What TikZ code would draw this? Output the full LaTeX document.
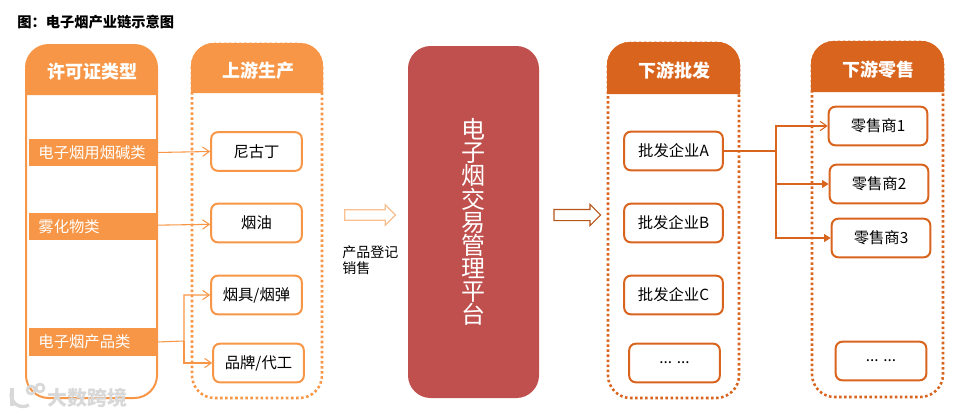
\documentclass[tikz,border=0pt]{standalone}
\usepackage{fontspec}
\setmainfont{Noto Sans CJK SC}
\usepackage{xcolor}
\usetikzlibrary{shapes.arrows,arrows.meta}
\definecolor{softorange}{RGB}{247,150,70}
\definecolor{lightorange}{RGB}{250,192,144}
\definecolor{deeporange}{RGB}{217,100,30}
\definecolor{platformred}{RGB}{192,80,77}
\definecolor{markgrey}{RGB}{216,216,216}
\tikzset{
    headtext/.style={text=white, font=\fontsize{13.5pt}{16pt}\selectfont\bfseries},
    stripbox/.style={fill=softorange, text=white, minimum width=95.25pt, minimum height=20.5pt, inner sep=0pt, font=\fontsize{11.5pt}{14pt}\selectfont},
    itembox/.style={draw=#1, fill=white, line width=1.5pt, rounded corners=5pt, minimum width=68pt, minimum height=29pt, inner sep=0pt, font=\fontsize{11.5pt}{14pt}\selectfont},
    dotframe/.style={draw=#1, line width=1.9pt, dash pattern=on 1.9pt off 1.9pt, rounded corners=17pt},
    hollowarrow/.style={single arrow, draw=#1, line width=0.9pt, fill=white, inner sep=0pt, single arrow head extend=3.75pt, single arrow head indent=0pt},
    feedline/.style={draw=#1, line width=0.8pt},
    plaintext/.style={inner sep=0pt, anchor=west, font=\fontsize{10.5pt}{13pt}\selectfont},
}
\begin{document}
\begin{tikzpicture}[x=0.75pt, y=-0.75pt]
    \useasboundingbox (0,0) rectangle (967,415);
    \node[plaintext, font=\fontsize{10.7pt}{13pt}\selectfont\bfseries] (title) at (17,22) {图：电子烟产业链示意图};

    % Panel frames and their headers
    \draw[softorange, line width=1.5pt, rounded corners=17pt] (26,45) rectangle (157,398);
    \draw[dotframe=softorange] (192,44) rectangle (322,398);
    \draw[dotframe=deeporange] (608,43) rectangle (739,398);
    \draw[dotframe=deeporange] (812,42) rectangle (943,397);
    \fill[softorange] (26,95) [rounded corners=17pt] -- (26,45) -- (157,45) [sharp corners] -- (157,95) -- cycle;
    \fill[softorange] (191,93) [rounded corners=17pt] -- (191,43) -- (323,43) [sharp corners] -- (323,93) -- cycle;
    \fill[deeporange] (607,94) [rounded corners=17pt] -- (607,42) -- (740,42) [sharp corners] -- (740,94) -- cycle;
    \fill[deeporange] (811,92) [rounded corners=17pt] -- (811,41) -- (944,41) [sharp corners] -- (944,92) -- cycle;
    \node[headtext] (licence) at (92,72) {许可证类型};
    \node[headtext] (upstream) at (258,71) {上游生产};
    \node[headtext] (wholesale) at (674,71) {下游批发};
    \node[headtext] (retail) at (878,70) {下游零售};

    % Licence strips
    \node[stripbox] (nicotine) at (92.5,152.5) {\makebox[81pt][l]{电子烟用烟碱类}};
    \node[stripbox] (aerosol) at (92.5,226.5) {\makebox[81pt][l]{雾化物类}};
    \node[stripbox] (product) at (92.5,342) {\makebox[81pt][l]{电子烟产品类}};

    % Upstream items
    \node[itembox=softorange] (nicotinebox) at (256.5,151.5) {尼古丁};
    \node[itembox=softorange] (oilbox) at (256.5,223) {烟油};
    \node[itembox=softorange] (devicebox) at (256.5,295) {烟具/烟弹};
    \node[itembox=softorange] (brandbox) at (258.5,363) {品牌/代工};

    % Platform
    \node[fill=platformred, rounded corners=17pt, minimum width=98.25pt, minimum height=264pt, inner sep=0pt, text=white, align=center, font=\fontsize{18pt}{17.3pt}\selectfont] (platform) at (473.5,222) {电\\子\\烟\\交\\易\\管\\理\\平\\台};

    % Hollow arrows
    \node[hollowarrow=lightorange, minimum height=38pt] (arrowin) at (367.5,215) {\rule{0pt}{7pt}};
    \node[hollowarrow=deeporange!85!black, minimum height=35pt] (arrowout) at (574.5,215) {\rule{0pt}{7.5pt}};
    \node[plaintext] (labelone) at (342,252) {产品登记};
    \node[plaintext] (labeltwo) at (342,268) {销售};

    % Wholesale items
    \node[itembox=deeporange, minimum width=74pt] (firma) at (673.5,151) {批发企业A};
    \node[itembox=deeporange, minimum width=74pt] (firmb) at (673.5,223) {批发企业B};
    \node[itembox=deeporange, minimum width=74pt] (firmc) at (673.5,295) {批发企业C};
    \node[itembox=deeporange] (firmmore) at (674.5,363) {... ...};

    % Retail items
    \node[itembox=deeporange, minimum width=74pt] (shopa) at (878,126) {零售商1};
    \node[itembox=deeporange, minimum width=74pt] (shopb) at (879,184) {零售商2};
    \node[itembox=deeporange, minimum width=74pt] (shopc) at (881,238) {零售商3};
    \node[itembox=deeporange] (shopmore) at (881,361) {... ...};

    % Connectors
    \coordinate (prodjoint) at (184,341);
    \coordinate (firmjoint) at (776,151);
    \draw[feedline=softorange, -{Straight Barb[length=5pt,width=7pt]}] (nicotine.east) -- (nicotinebox.west);
    \draw[feedline=softorange, -{Straight Barb[length=5pt,width=7pt]}] ([yshift=1pt]aerosol.east) -- ([yshift=-1pt]oilbox.west);
    \draw[feedline=softorange, -{Straight Barb[length=5pt,width=7pt]}] (product.east) -- (prodjoint) |- (devicebox.west);
    \draw[feedline=softorange, -{Straight Barb[length=5pt,width=7pt]}] (prodjoint) |- (brandbox.west);
    \draw[feedline=deeporange, -{Straight Barb[length=5pt,width=7pt]}] (firma.east) -- (firmjoint) |- (shopa.west);
    \draw[feedline=deeporange, -{Triangle[length=5pt,width=6pt]}] (firmjoint) |- (shopb.west);
    \draw[feedline=deeporange, -{Triangle[length=5pt,width=6pt]}] (firmjoint) |- (shopc.west);

    % Watermark
    \draw[markgrey, line width=2pt] (31,390) circle (4);
    \draw[markgrey, line width=2pt] (40,388) circle (4);
    \draw[markgrey, line width=2.5pt] (12,388) -- (12,406);
    \draw[markgrey, line width=2.5pt] (29,405) arc (60:200:12);
    \node[inner sep=0pt, anchor=west, text=markgrey, font=\fontsize{15pt}{18pt}\selectfont\bfseries] (watermark) at (47,398) {大数跨境};
\end{tikzpicture}
\end{document}
